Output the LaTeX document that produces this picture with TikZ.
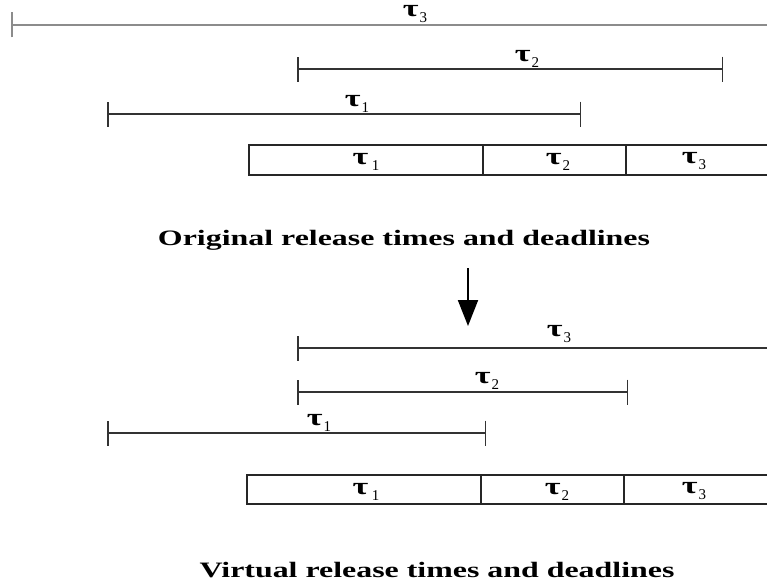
\documentclass[tikz,border=0pt]{standalone}
\usepackage{fontspec}
\usepackage{graphicx}
\setmainfont{Liberation Serif}
\usetikzlibrary{arrows.meta}

% task symbol (wide tau) with a lowered index
\newcommand{\tk}[1]{\scalebox{1.55}[1.1]{\bfseries\fontsize{22}{22}\selectfont τ}\kern1pt\raisebox{-6pt}{\fontsize{15}{15}\selectfont #1}}

\tikzset{
  span/.style={line width=1.1pt, draw=black!80, {Bar[width=25pt,line width=1.5pt]}-{Bar[width=25pt,line width=1.5pt]}},
  openspan/.style={line width=1.1pt, draw=black!80, {Bar[width=25pt,line width=1.5pt]}-},
  cell/.style={draw=black!85, line width=1.1pt, inner sep=0pt},
  lab/.style={inner sep=0pt, anchor=center},
  title/.style={inner sep=0pt, font=\bfseries\fontsize{22}{22}\selectfont, xscale=1.45}
}

\begin{document}
\begin{tikzpicture}[x=1pt,y=-1pt]
\useasboundingbox (0,0) rectangle (767,586);

% ---- original release times and deadlines ----
\coordinate (o3a) at (11,25);   \coordinate (o3b) at (775,25);
\coordinate (o2a) at (297,69);  \coordinate (o2b) at (723,69);
\coordinate (o1a) at (107,114); \coordinate (o1b) at (581,114);
\draw[openspan, draw=black!45] (o3a) -- (o3b);
\draw[span] (o2a) -- (o2b);
\draw[span] (o1a) -- (o1b);
\node[lab] (lo3) at (415,14.5) {\tk{3}};
\node[lab] (lo2) at (527,59) {\tk{2}};
\node[lab] (lo1) at (357,104) {\tk{1}};

\draw[cell] (249,145) rectangle (483,175);
\draw[cell] (483,145) rectangle (626,175);
\draw[cell] (626,145) rectangle (775,175);
\node[lab] (bo1) at (366,162) {\tk{\,1}};
\node[lab] (bo2) at (558,162) {\tk{2}};
\node[lab] (bo3) at (694,161) {\tk{3}};

\node[title] (t1) at (404,240) {Original release times and deadlines};

% ---- transformation arrow ----
\coordinate (ar1) at (468,268);
\coordinate (ar2) at (468,326);
\draw[line width=2pt, -{Triangle[length=26pt,width=20pt]}] (ar1) -- (ar2);

% ---- virtual release times and deadlines ----
\coordinate (v3a) at (297,348); \coordinate (v3b) at (775,348);
\coordinate (v2a) at (297,392); \coordinate (v2b) at (628,392);
\coordinate (v1a) at (107,433); \coordinate (v1b) at (486,433);
\draw[openspan] (v3a) -- (v3b);
\draw[span] (v2a) -- (v2b);
\draw[span] (v1a) -- (v1b);
\node[lab] (lv3) at (559,334) {\tk{3}};
\node[lab] (lv2) at (487,381) {\tk{2}};
\node[lab] (lv1) at (319,423) {\tk{1}};

\draw[cell] (247,475) rectangle (481,504);
\draw[cell] (481,475) rectangle (624,504);
\draw[cell] (624,475) rectangle (775,504);
\node[lab] (bv1) at (366,492) {\tk{\,1}};
\node[lab] (bv2) at (557,492) {\tk{2}};
\node[lab] (bv3) at (694,491) {\tk{3}};

\node[title] (t2) at (437,570) {Virtual release times and deadlines};
\end{tikzpicture}
\end{document}
